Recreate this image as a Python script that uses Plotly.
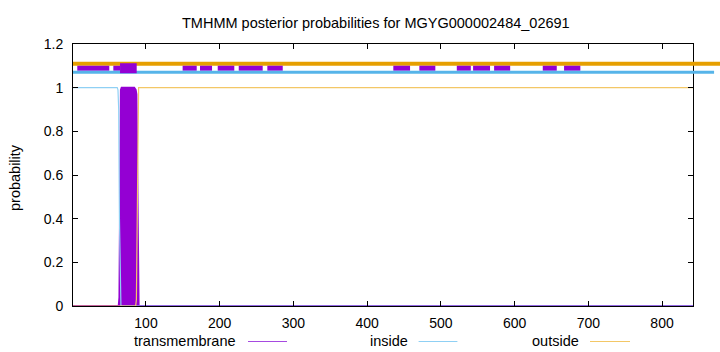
import plotly.graph_objects as go

# ---------------- data ----------------
seq_len = 842
x_ticks = [100, 200, 300, 400, 500, 600, 700, 800]
y_ticks = [0, 0.2, 0.4, 0.6, 0.8, 1.0, 1.2]

# posterior probability curves (residue position, probability)
tm_pos = [1, 63, 64, 65, 66, 67, 68, 84, 85, 86, 87, 88, 89, 90, 842]
tm_prob = [0, 0, 0.04, 0.95, 0.99, 1.0, 1.0, 1.0, 0.995, 0.99, 0.97, 0.6, 0.03, 0, 0]
inside_pos = [1, 61, 62, 63, 64, 65, 66, 842]
inside_prob = [1, 1, 0.99, 0.9, 0.4, 0.04, 0, 0]
outside_pos = [1, 86, 87, 88, 89, 90, 842]
outside_prob = [0, 0, 0.03, 0.4, 0.97, 1.0, 1.0]

# topology bars drawn above the curves (start, end residue)
outside_bar = [(1, 885)]
inside_bar = [(1, 870.6)]
tm_small_bars = [(6.8, 50.2), (55.7, 64.8), (149.7, 168.8), (173.3, 189.6),
                 (197.3, 219.8), (225.8, 258.3), (264.6, 285.5), (435.5, 458.2),
                 (470.8, 492.5), (521.6, 540.6), (543.7, 566.7), (572.2, 594.0),
                 (638.2, 657.2), (667.1, 689.2)]
tm_main_bar = [(64.8, 87.4)]
bar_levels = {"outside": 1.11, "tm": 1.089, "inside": 1.071}

PURPLE = "#9400d3"
BLUE = "#56b4e9"
ORANGE = "#e69f00"

# ---------------- layout geometry ----------------
W, H = 720, 352
ML, MR, MT, MB = 73, 0, 44, 46
plot_w = W - ML - MR           # 647
axis_w = 693 - ML              # 620 -> visible frame
px_per_unit = axis_w / (seq_len - 1)
x2_end = 1 + plot_w / px_per_unit


def seg_xy(segs, level):
    xs, ys = [], []
    for a, b in segs:
        xs += [a, b, None]
        ys += [level, level, None]
    return xs, ys


fig = go.Figure()

# transmembrane (filled impulses look)
fig.add_trace(go.Scatter(x=tm_pos, y=tm_prob, mode="lines", fill="tozeroy",
                         fillcolor=PURPLE, line=dict(color=PURPLE, width=2),
                         xaxis="x", yaxis="y", showlegend=False))
fig.add_trace(go.Scatter(x=inside_pos, y=inside_prob, mode="lines",
                         line=dict(color="#8fd0f4", width=1.2),
                         xaxis="x", yaxis="y", showlegend=False))
fig.add_trace(go.Scatter(x=outside_pos, y=outside_prob, mode="lines",
                         line=dict(color="#f3c766", width=1.2),
                         xaxis="x", yaxis="y", showlegend=False))

# top topology bars (on an invisible second subplot so they can run past the frame)
for segs, level, color, width in [
    (outside_bar, bar_levels["outside"], ORANGE, 4),
    (tm_small_bars, bar_levels["tm"], PURPLE, 5),
    (inside_bar, bar_levels["inside"], BLUE, 3),
    (tm_main_bar, bar_levels["tm"], PURPLE, 10),
]:
    xs, ys = seg_xy(segs, level)
    fig.add_trace(go.Scatter(x=xs, y=ys, mode="lines",
                             line=dict(color=color, width=width),
                             xaxis="x2", yaxis="y2", showlegend=False))

FONT = "Liberation Sans, Arial, sans-serif"
fs = 14
fs_text = 14.5

fig.update_layout(
    width=W, height=H,
    margin=dict(l=ML, r=MR, t=MT, b=MB, pad=0),
    paper_bgcolor="white", plot_bgcolor="rgba(0,0,0,0)",
    font=dict(family=FONT, size=fs, color="black"),
    showlegend=False,
    xaxis=dict(domain=[0, axis_w / plot_w], range=[1, seq_len],
               tickvals=x_ticks, ticks="inside", ticklen=5, tickcolor="black",
               showline=True, linecolor="black", linewidth=1, mirror="ticks",
               showgrid=False, zeroline=False, anchor="y",
               ticklabelstandoff=4),
    yaxis=dict(domain=[0, 1], range=[0, 1.2], tickvals=y_ticks,
               ticktext=["0", "0.2", "0.4", "0.6", "0.8", "1", "1.2"],
               ticks="inside", ticklen=5, tickcolor="black",
               showline=True, linecolor="black", linewidth=1, mirror="ticks",
               showgrid=False, zeroline=False, anchor="x",
               ticklabelstandoff=6),
    xaxis2=dict(domain=[0, 1], range=[1, x2_end], visible=False, anchor="y2"),
    yaxis2=dict(domain=[0, 1], range=[0, 1.2], visible=False, anchor="x2"),
)


def px_x(px):
    return (px - ML) / plot_w


def px_y(py):
    return (H - MB - py) / (H - MT - MB)


# title
fig.add_annotation(text="TMHMM posterior probabilities for MGYG000002484_02691",
                   xref="paper", yref="paper", x=px_x(376), y=px_y(23),
                   xanchor="center", yanchor="middle", showarrow=False,
                   font=dict(size=fs_text))
# y label
fig.add_annotation(text="probability", xref="paper", yref="paper",
                   x=px_x(15), y=px_y(178), textangle=-90,
                   xanchor="center", yanchor="middle", showarrow=False,
                   font=dict(size=fs_text))

# legend (text right-aligned, then a line sample)
legend_items = [("transmembrane", 238, 248, 287, "#a64ae0"),
                ("inside", 409.5, 418.6, 457.4, "#8fd0f4"),
                ("outside", 581, 590, 630, "#f3c766")]
for label, tx, l0, l1, col in legend_items:
    fig.add_annotation(text=label, xref="paper", yref="paper",
                       x=px_x(tx), y=px_y(341), xanchor="right", yanchor="middle",
                       showarrow=False, font=dict(size=fs_text))
    fig.add_shape(type="line", xref="paper", yref="paper",
                  x0=px_x(l0), x1=px_x(l1), y0=px_y(341.5), y1=px_y(341.5),
                  line=dict(color=col, width=1.2))

fig.write_html("out.html")
